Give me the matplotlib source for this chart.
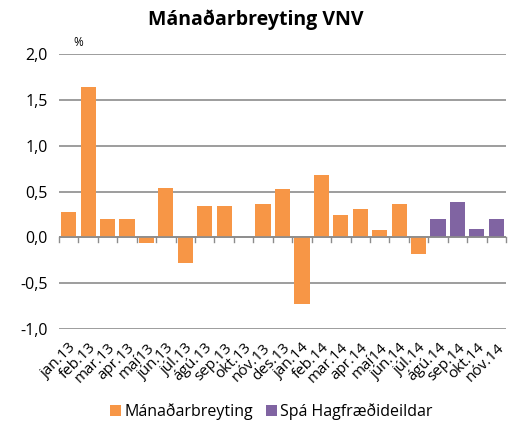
import matplotlib.pyplot as plt
import numpy as np

plt.rcParams['font.family'] = ['Open Sans', 'DejaVu Sans']

# Data
months = ['jan.13', 'feb.13', 'mar.13', 'apr.13', 'maí13', 'jún.13', 'júl.13',
          'ágú.13', 'sep.13', 'okt.13', 'nóv.13', 'des.13', 'jan.14', 'feb.14',
          'mar.14', 'apr.14', 'maí14', 'jún.14', 'júl.14', 'ágú.14', 'sep.14',
          'okt.14', 'nóv.14']
actual = [0.28, 1.64, 0.20, 0.20, -0.06, 0.54, -0.28, 0.34, 0.34, 0.0, 0.36,
          0.53, -0.73, 0.68, 0.24, 0.31, 0.08, 0.36, -0.18]
forecast = [0.20, 0.39, 0.09, 0.20]

orange = '#F79646'
purple = '#8064A2'

fig = plt.figure(figsize=(5.12, 4.3), dpi=100)
ax = fig.add_axes([59 / 512, 1 - 329 / 430, (506 - 59) / 512, (329 - 54) / 430])

n_act = len(actual)
x_act = np.arange(n_act)
x_fc = np.arange(n_act, n_act + len(forecast))
ax.bar(x_act, actual, width=0.78, color=orange, label='Mánaðarbreyting', zorder=3)
ax.bar(x_fc, forecast, width=0.78, color=purple, label='Spá Hagfræðideildar', zorder=3)

ax.set_xlim(-0.5, len(months) - 0.5)
ax.set_ylim(-1.0, 2.0)
ax.set_yticks(np.arange(-1.0, 2.01, 0.5))
ax.set_yticklabels([f'{v:.1f}'.replace('.', ',') for v in np.arange(-1.0, 2.01, 0.5)],
                   fontsize=11.5)
ax.yaxis.grid(True, color='#8c8c8c', linewidth=1.2, zorder=0)
ax.tick_params(axis='y', length=0, pad=8)

# category labels, rotated
ax.set_xticks(np.arange(len(months)))
ax.set_xticklabels(months, rotation=45, ha='right', rotation_mode='anchor', fontsize=11)
ax.tick_params(axis='x', length=0, pad=8)

# zero line with boundary ticks
ax.axhline(0, color='#8c8c8c', linewidth=1.2, zorder=4)
for b in np.arange(-0.5, len(months), 1.0):
    ax.plot([b, b], [0, -0.05], color='#8c8c8c', linewidth=1.0, zorder=4, clip_on=False)

for s in ax.spines.values():
    s.set_visible(False)

ax.text(0.5, 2.06, '%', fontsize=8.5, ha='center', va='bottom')
fig.text(0.5, 1 - 20 / 430, 'Mánaðarbreyting VNV', ha='center', va='center',
         fontsize=14, fontweight='bold')

fig.legend(loc='center', bbox_to_anchor=(0.53, 1 - 412 / 430), ncol=2, frameon=False,
           fontsize=11.5, handlelength=0.7, handleheight=0.7, handletextpad=0.2,
           columnspacing=0.8)

fig.savefig('out.png', dpi=100)
